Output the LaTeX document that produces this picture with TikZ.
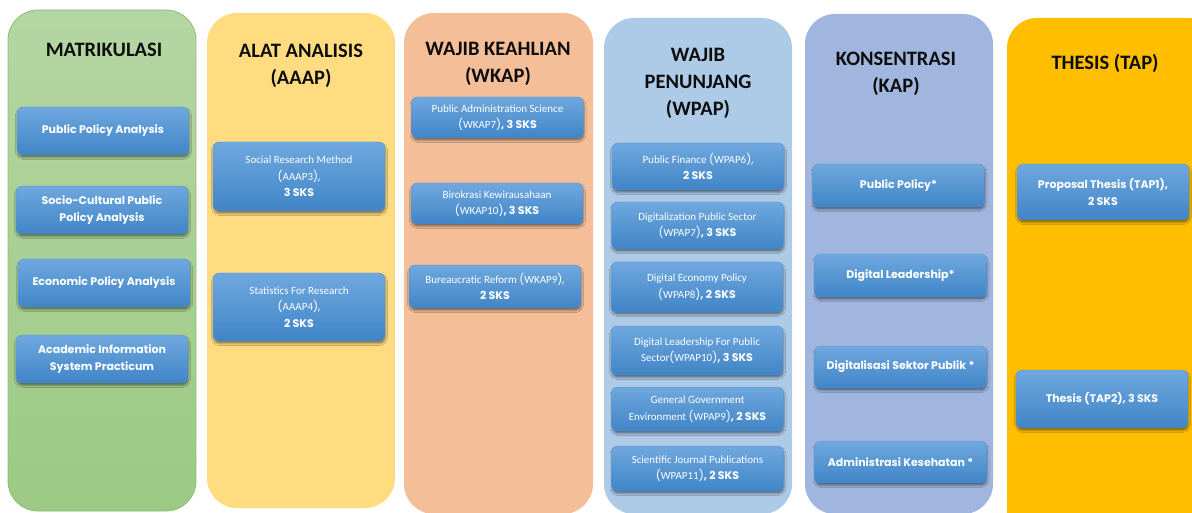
\documentclass[tikz,border=0pt]{standalone}
\usepackage{fontspec}
\setmainfont{Carlito}
\newfontfamily\pop{Poppins}
\usetikzlibrary{shadows.blur}

% column fills
\definecolor{greentop}{HTML}{B5D6A3}
\definecolor{greenbot}{HTML}{9CC984}
\definecolor{greenline}{HTML}{8CBC6F}
\definecolor{yellowcol}{HTML}{FFDC80}
\definecolor{orangecol}{HTML}{F4BE99}
\definecolor{skycol}{HTML}{ADCAE7}
\definecolor{bluecol}{HTML}{A0B6DF}
\definecolor{goldcol}{HTML}{FFBF00}
% course boxes
\definecolor{boxtop}{HTML}{6FA8DE}
\definecolor{boxbot}{HTML}{4085C7}
\definecolor{boxline}{HTML}{5A95D0}
\definecolor{headink}{HTML}{0D0D0D}

% bold label part and regular label part
\newcommand\bb[1]{{\pop\bfseries #1}}
\newcommand\pp[1]{{\pop #1}}

\tikzset{
  column/.style={rounded corners=30pt},
  course/.style={rounded corners=6pt, top color=boxtop, bottom color=boxbot,
    draw=boxline, line width=0.3pt, minimum width=172pt, text=white,
    align=center, inner sep=2pt,
    blur shadow={shadow xshift=0.5pt, shadow yshift=-2.5pt, shadow opacity=45, shadow blur radius=2pt},
    font=\fontsize{11}{16.5}\selectfont},
  head/.style={font=\fontsize{20.5}{27}\selectfont\bfseries, align=center, text=headink}
}

\begin{document}
\begin{tikzpicture}[x=1pt,y=-1pt]
\useasboundingbox (0,0) rectangle (1192,513);
\clip (0,0) rectangle (1192,513);
\fill[white] (0,0) rectangle (1192,513);

% columns
\path[column, top color=greentop, bottom color=greenbot, draw=greenline, line width=0.8pt] (8,10) rectangle (196,511);
\path[column, fill=yellowcol] (207,13) rectangle (395,508);
\path[column, fill=orangecol] (404,13) rectangle (593,514);
\path[column, fill=skycol] (604,18) rectangle (792,514);
\path[column, fill=bluecol] (805,14) rectangle (993,514);
\path[column, fill=goldcol] (1007,18) rectangle (1220,540);

% headings
\node[head] (h1) at (104,50) {MATRIKULASI};
\node[head] (h2) at (301,66) {ALAT ANALISIS\\(AAAP)};
\node[head] (h3) at (498,64) {WAJIB KEAHLIAN\\(WKAP)};
\node[head] (h4) at (698,83) {WAJIB\\PENUNJANG\\(WPAP)};
\node[head] (h5) at (896,74) {KONSENTRASI\\(KAP)};
\node[head] (h6) at (1105,63) {THESIS (TAP)};

% Matrikulasi
\node[course, minimum height=48pt] (m1) at (103,131) {\bb{Public Policy Analysis}};
\node[course, minimum height=48pt] (m2) at (102,210) {\bb{Socio-Cultural Public}\\\bb{Policy Analysis}};
\node[course, minimum height=48pt] (m3) at (104,283) {\bb{Economic Policy Analysis}};
\node[course, minimum height=48pt] (m4) at (102,359) {\bb{Academic Information}\\\bb{System Practicum}};

% Alat analisis
\node[course, minimum height=69pt] (a1) at (299,176.5) {Social Research Method\\\pp{(}AAAP3\pp{),}\\\bb{3 SKS}};
\node[course, minimum height=68pt] (a2) at (299,307) {Statistics For Research\\\pp{(}AAAP4\pp{),}\\\bb{2 SKS}};

% Wajib keahlian
\node[course, minimum height=41pt] (k1) at (497.5,117.5) {Public Administration Science\\\pp{(}WKAP7\pp{)}\bb{, 3 SKS}};
\node[course, minimum height=41pt] (k2) at (497,203.5) {Birokrasi Kewirausahaan\\\pp{(}WKAP10\pp{)}\bb{, 3 SKS}};
\node[course, minimum height=43pt] (k3) at (495,286.5) {Bureaucratic Reform \pp{(}WKAP9\pp{),}\\\bb{2 SKS}};

% Wajib penunjang
\node[course, minimum height=47pt] (p1) at (698,166.5) {Public Finance \pp{(}WPAP6\pp{),}\\\bb{2 SKS}};
\node[course, minimum height=47pt] (p2) at (697.5,225.5) {Digitalization Public Sector\\\pp{(}WPAP7\pp{)}\bb{, 3 SKS}};
\node[course, minimum height=50pt] (p3) at (697,287) {Digital Economy Policy\\\pp{(}WPAP8\pp{)}\bb{, 2 SKS}};
\node[course, minimum height=49pt] (p4) at (697,350.5) {Digital Leadership For Public\\Sector\pp{(}WPAP10\pp{)}\bb{, 3 SKS}};
\node[course, minimum height=44pt] (p5) at (697.5,409) {General Government\\Environment \pp{(}WPAP9\pp{)}\bb{, 2 SKS}};
\node[course, minimum height=45pt] (p6) at (697.5,468.5) {Scientific Journal Publications\\\pp{(}WPAP11\pp{)}\bb{, 2 SKS}};

% Konsentrasi
\node[course, minimum height=43pt] (c1) at (898.5,185.5) {\bb{Public Policy*}};
\node[course, minimum height=43pt] (c2) at (900.5,275.5) {\bb{Digital Leadership*}};
\node[course, minimum height=42pt] (c3) at (900.5,367) {\bb{Digitalisasi Sektor Publik *}};
\node[course, minimum height=42pt] (c4) at (900.5,462) {\bb{Administrasi Kesehatan *}};

% Thesis
\node[course, minimum height=56pt] (t1) at (1103,192) {\bb{Proposal Thesis (TAP1),}\\\bb{2 SKS}};
\node[course, minimum height=58pt] (t2) at (1102,399) {\bb{Thesis (TAP2), 3 SKS}};
\end{tikzpicture}
\end{document}
